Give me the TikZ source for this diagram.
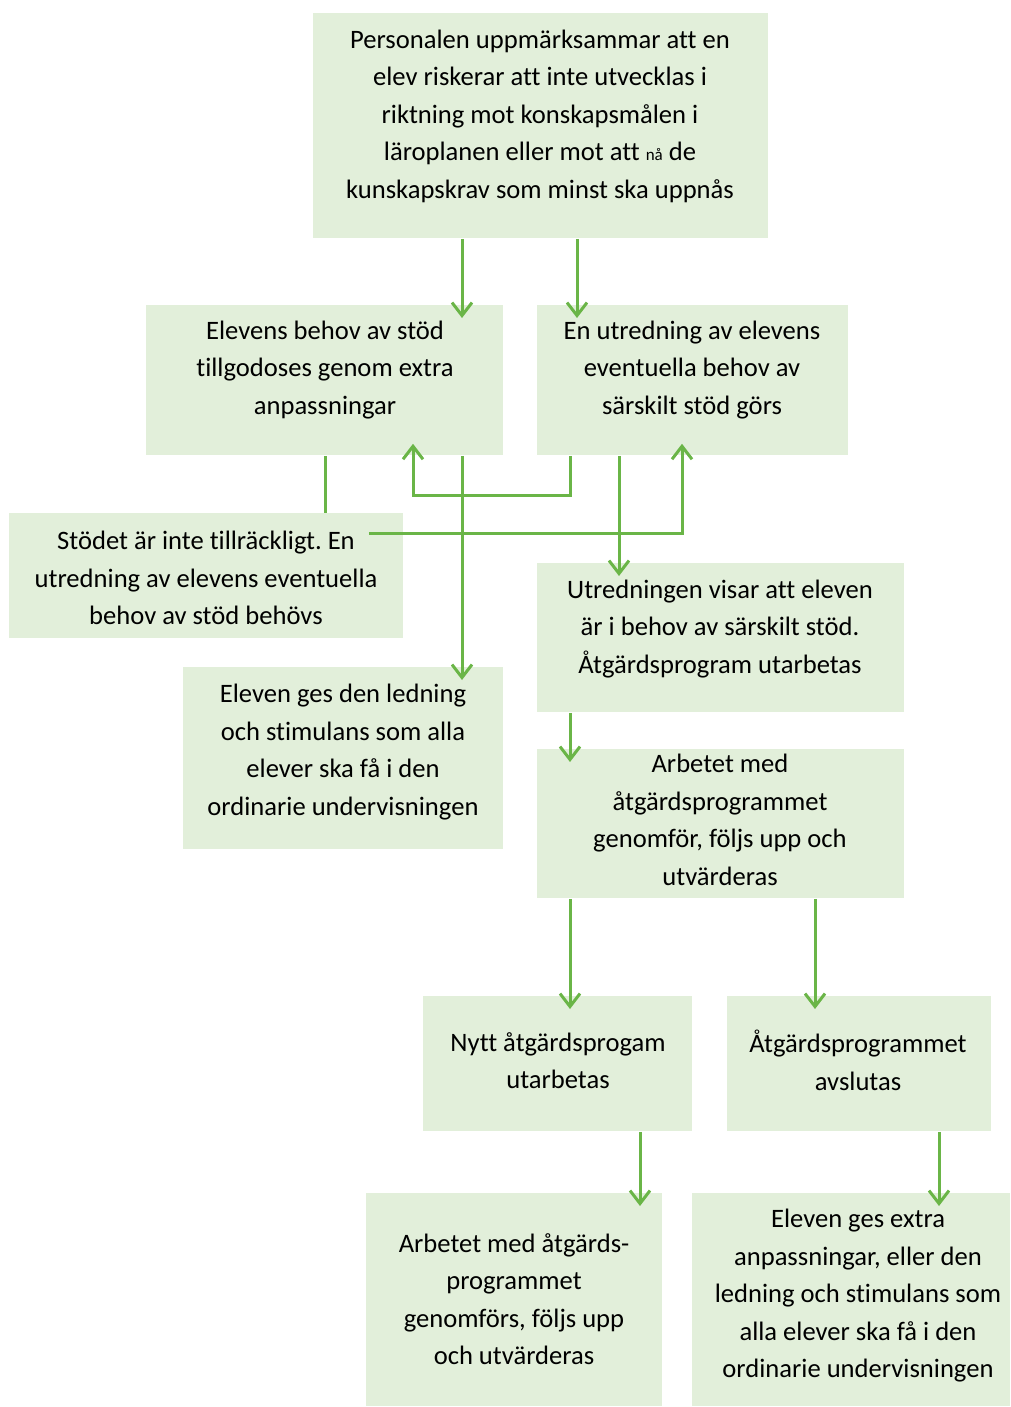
\documentclass[tikz,border=0pt]{standalone}
\usepackage{fontspec}
\setmainfont[Ligatures=NoCommon]{Carlito}
\usetikzlibrary{arrows.meta, calc}
\definecolor{boxgreen}{HTML}{E2EFDA}
\definecolor{linegreen}{HTML}{6AB547}
\frenchspacing

\begin{document}
\begin{tikzpicture}[x=0.5pt, y=-0.5pt,
  box/.style={fill=boxgreen, inner sep=0pt, anchor=north west},
  txt/.style={align=center, inner sep=0pt, font=\fontsize{13.3}{18.75}\selectfont},
  link/.style={draw=linegreen, line width=1.5pt},
  >={Straight Barb[length=6.5pt, width=10pt]}]
  \useasboundingbox (0,0) rectangle (1011,1407);

  % Boxes
  \node[box, minimum width=227.5pt, minimum height=112.5pt] (top) at (313,13) {};
  \node[box, minimum width=178.5pt, minimum height=75pt] (extra) at (146,305) {};
  \node[box, minimum width=155.5pt, minimum height=75pt] (inquiry) at (537,305) {};
  \node[box, minimum width=197pt, minimum height=62.5pt] (notenough) at (9,513) {};
  \node[box, minimum width=183.5pt, minimum height=74.5pt] (result) at (537,563) {};
  \node[box, minimum width=160pt, minimum height=91pt] (ordinary) at (183,667) {};
  \node[box, minimum width=183.5pt, minimum height=74.5pt] (work) at (537,749) {};
  \node[box, minimum width=134.5pt, minimum height=67.5pt] (newprog) at (423,996) {};
  \node[box, minimum width=132pt, minimum height=67.5pt] (closed) at (727,996) {};
  \node[box, minimum width=148pt, minimum height=106.5pt] (newwork) at (366,1193) {};
  \node[box, minimum width=159pt, minimum height=106.5pt] (after) at (692,1193) {};

  % Texts
  \node[txt] (top-t) at (540,116) {Personalen uppmärksammar att en\\elev riskerar att inte utvecklas i\\riktning mot konskapsmålen i\\läroplanen eller mot att {\fontsize{8.5}{10}\selectfont nå} de\\kunskapskrav som minst ska uppnås};
  \node[txt] (extra-t) at (325,370) {Elevens behov av stöd\\tillgodoses genom extra\\anpassningar};
  \node[txt] (inquiry-t) at (692,370) {En utredning av elevens\\eventuella behov av\\särskilt stöd görs};
  \node[txt] (notenough-t) at (206,578) {Stödet är inte tillräckligt. En\\utredning av elevens eventuella\\behov av stöd behövs};
  \node[txt] (result-t) at (720,629) {Utredningen visar att eleven\\är i behov av särskilt stöd.\\Åtgärdsprogram utarbetas};
  \node[txt] (ordinary-t) at (343,752) {Eleven ges den ledning\\och stimulans som alla\\elever ska få i den\\ordinarie undervisningen};
  \node[txt] (work-t) at (720,820) {Arbetet med\\åtgärdsprogrammet\\genomför, följs upp och\\utvärderas};
  \node[txt] (newprog-t) at (558,1060.5) {Nytt åtgärdsprogam\\utarbetas};
  \node[txt] (closed-t) at (858,1060.5) {Åtgärdsprogrammet\\avslutas};
  \node[txt] (newwork-t) at (514,1299) {Arbetet med åtgärds-\\programmet\\genomförs, följs upp\\och utvärderas};
  \node[txt] (after-t) at (858,1296) {Eleven ges extra\\anpassningar, eller den\\ledning och stimulans som\\alla elever ska få i den\\ordinarie undervisningen};

  % Connectors
  \coordinate (notenough-out) at ($(notenough.north east)+(-35,20)$);
  \draw[link, ->] (top.south -| 462,0) -- ($(extra.north -| 462,0)+(0,13)$);
  \draw[link, ->] (top.south -| 577,0) -- ($(inquiry.north -| 577,0)+(0,13)$);
  \draw[link] (extra.south -| 325,0) -- (notenough.north -| 325,0);
  \draw[link, ->] (inquiry.south -| 570,0) |- (413,495) -- ($(extra.south -| 413,0)+(0,-12)$);
  \draw[link, ->] (notenough-out) -| ($(inquiry.south -| 682,0)+(0,-12)$);
  \draw[link, ->] (extra.south -| 462,0) -- ($(ordinary.north -| 462,0)+(0,13)$);
  \draw[link, ->] (inquiry.south -| 619,0) -- ($(result.north -| 619,0)+(0,13)$);
  \draw[link, ->] (result.south -| 570,0) -- ($(work.north -| 570,0)+(0,13)$);
  \draw[link, ->] (work.south -| 570,0) -- ($(newprog.north -| 570,0)+(0,13)$);
  \draw[link, ->] (work.south -| 815,0) -- ($(closed.north -| 815,0)+(0,13)$);
  \draw[link, ->] (newprog.south -| 640,0) -- ($(newwork.north -| 640,0)+(0,13)$);
  \draw[link, ->] (closed.south -| 939,0) -- ($(after.north -| 939,0)+(0,13)$);
\end{tikzpicture}
\end{document}
